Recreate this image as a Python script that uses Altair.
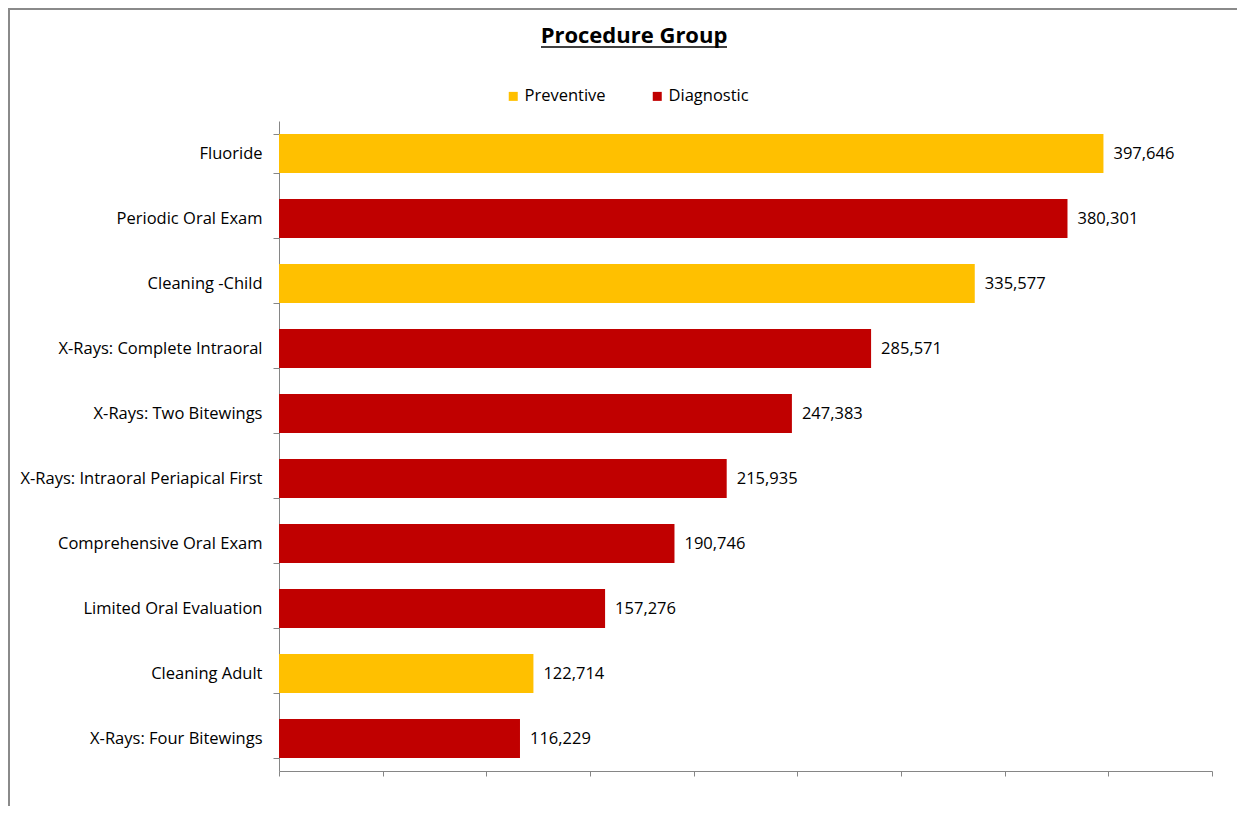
import altair as alt
import pandas as pd

categories = [
    "Fluoride",
    "Periodic Oral Exam",
    "Cleaning -Child\u00a0",
    "X-Rays: Complete Intraoral",
    "X-Rays: Two Bitewings",
    "X-Rays: Intraoral Periapical First",
    "Comprehensive Oral Exam",
    "Limited Oral Evaluation",
    "Cleaning Adult\u00a0",
    "X-Rays: Four Bitewings",
]
values = [397646, 380301, 335577, 285571, 247383, 215935, 190746, 157276, 122714, 116229]
groups = ["Preventive", "Diagnostic", "Preventive", "Diagnostic", "Diagnostic",
          "Diagnostic", "Diagnostic", "Diagnostic", "Preventive", "Diagnostic"]
group_order = ["Preventive", "Diagnostic"]
group_colors = ["#FFC000", "#C00000"]
x_ticks = [0, 50000, 100000, 150000, 200000, 250000, 300000, 350000, 400000, 450000]

df = pd.DataFrame({"Procedure": categories, "Count": values, "Group": groups})

FONT = "Open Sans"
FS = 16.5
W, H = 933, 650
AX = "#868686"

y_enc = alt.Y(
    "Procedure:N", sort=categories, title=None,
    scale=alt.Scale(paddingInner=0.4, paddingOuter=0.2),
    axis=alt.Axis(tickBand="extent", tickSize=6, labelPadding=11,
                  labelFontSize=FS, labelColor="#000000", labelFont=FONT,
                  domainColor=AX, tickColor=AX, labelLimit=400),
)
x_enc = alt.X(
    "Count:Q", title=None, scale=alt.Scale(domain=[0, 450000], nice=False),
    axis=alt.Axis(values=x_ticks, labels=False, grid=False, tickSize=5,
                  domainColor=AX, tickColor=AX),
)

bars = alt.Chart(df).mark_bar().encode(
    y=y_enc, x=x_enc,
    color=alt.Color(
        "Group:N", scale=alt.Scale(domain=group_order, range=group_colors),
        legend=alt.Legend(orient="none", direction="horizontal", title=None,
                          legendX=226, legendY=-33, symbolType="square",
                          symbolSize=81, symbolStrokeWidth=0,
                          labelFontSize=FS, labelFont=FONT, labelColor="#000000",
                          columnPadding=43, labelOffset=3),
    ),
)

labels = alt.Chart(df).mark_text(
    align="left", baseline="middle", dx=10, fontSize=FS, font=FONT, color="#000000"
).encode(
    y=alt.Y("Procedure:N", sort=categories),
    x="Count:Q",
    text=alt.Text("Count:Q", format=","),
)

one = alt.Data(values=[{}])
title = alt.Chart(one).mark_text(
    text="Procedure Group", fontSize=22, fontWeight="bold", font=FONT,
    align="center", baseline="alphabetic", color="#000000"
).encode(x=alt.value(355), y=alt.value(-78))
underline = alt.Chart(one).mark_rule(color="#000000", strokeWidth=1.5).encode(
    x=alt.value(262), x2=alt.value(448), y=alt.value(-74)
)
border_left = alt.Chart(one).mark_rule(color="#8a8a8a", strokeWidth=2).encode(
    x=alt.value(-270), y=alt.value(-113), y2=alt.value(H + 40)
)
border_top = alt.Chart(one).mark_rule(color="#8a8a8a", strokeWidth=2).encode(
    x=alt.value(-270), x2=alt.value(W + 25), y=alt.value(-112)
)

chart = alt.layer(border_left, border_top, bars, labels, title, underline).properties(
    width=W, height=H,
    autosize=alt.AutoSizeParams(type="none"),
    padding={"left": 271, "top": 113, "right": 25, "bottom": 35},
    background="#ffffff",
).configure_view(stroke=None, strokeWidth=0)

chart.save("out.html", embed_options={"renderer": "svg", "actions": False})
